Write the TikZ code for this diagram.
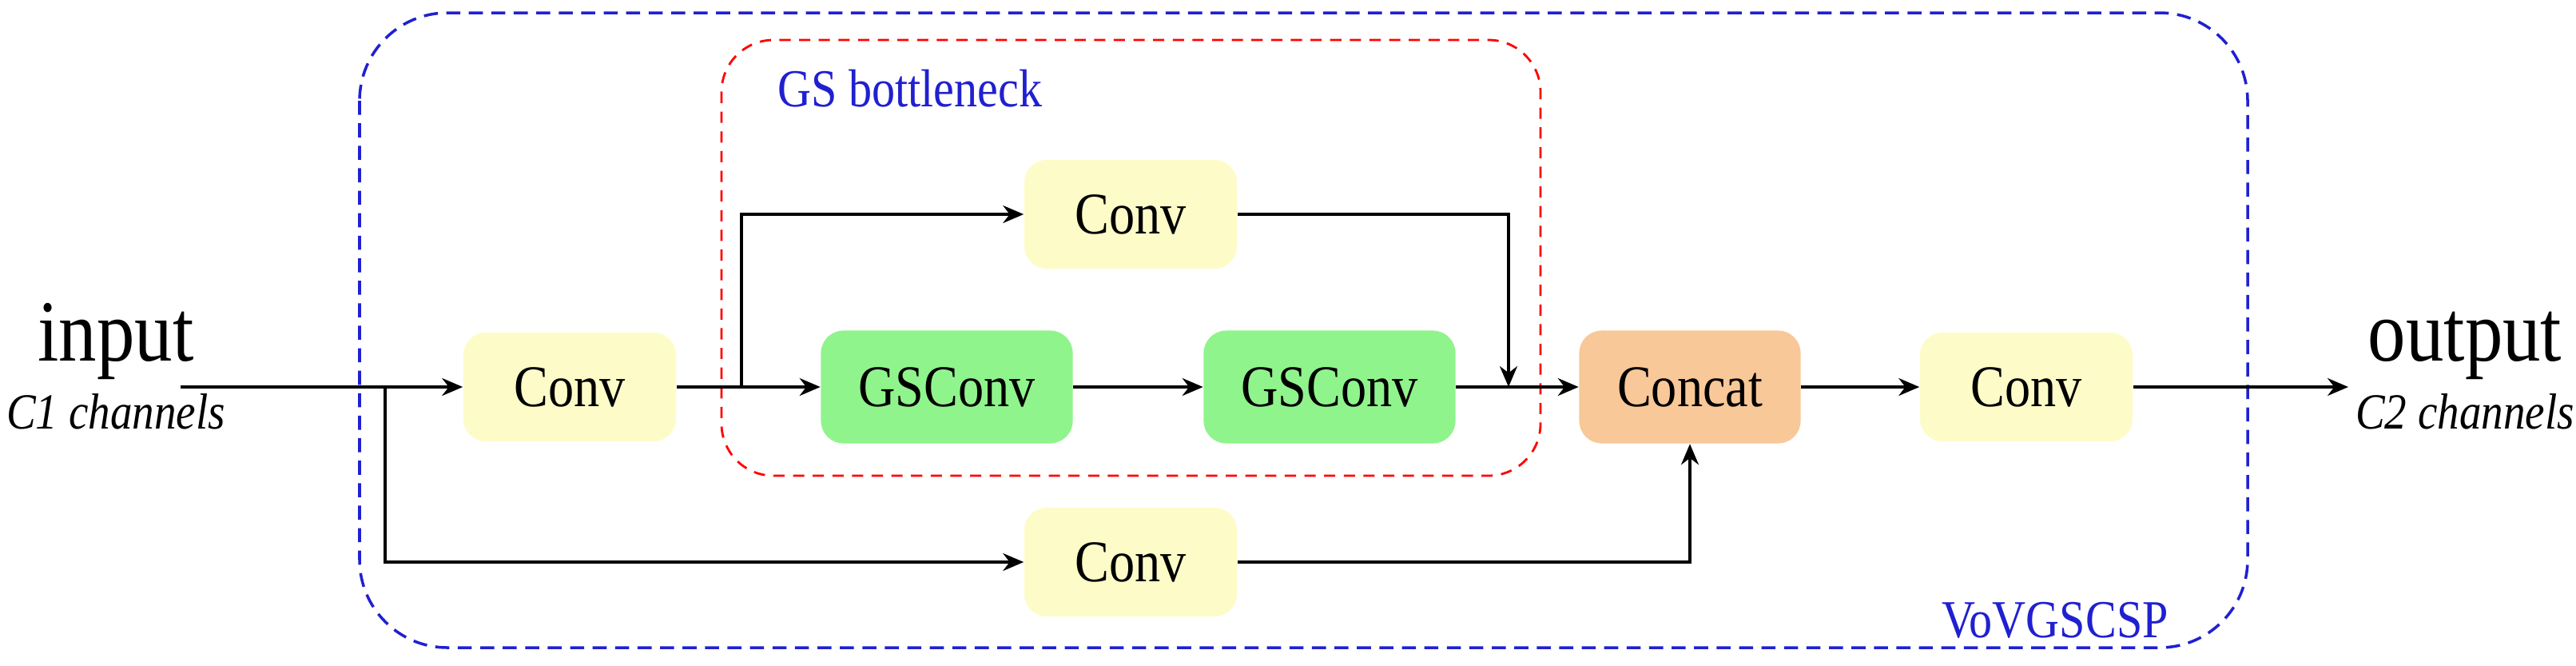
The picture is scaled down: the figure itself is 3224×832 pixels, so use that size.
\documentclass[tikz,border=0pt]{standalone}
\usepackage{fontspec}
\setmainfont{Liberation Serif}[FakeStretch=0.87]
\usetikzlibrary{arrows.meta}
\definecolor{cy}{HTML}{FDFCC8}
\definecolor{cg}{HTML}{90F48C}
\definecolor{co}{HTML}{F8C898}
\definecolor{bb}{HTML}{2020D0}
\begin{document}
\begin{tikzpicture}[x=0.01cm,y=-0.01cm,
  box/.style={rounded corners=8pt,inner sep=0pt,font=\fontsize{21}{25}\selectfont},
  conv/.style={box,fill=cy,minimum width=2.66cm,minimum height=1.36cm},
  gs/.style={box,fill=cg,minimum width=3.15cm,minimum height=1.41cm},
  ar/.style={line width=1pt,-{Stealth[length=0.26cm,width=0.22cm]}},
  ln/.style={line width=1pt}]
\useasboundingbox (0,0) rectangle (3224,832);
\draw[bb,dashed,line width=1pt,dash pattern=on 5pt off 3pt,rounded corners=1.1cm] (450,16) rectangle (2813,810);
\draw[red,dashed,line width=0.8pt,dash pattern=on 4pt off 3pt,rounded corners=0.65cm] (903,50) rectangle (1928,595);
\node[text=bb,font=\fontsize{19}{22}\selectfont,anchor=base west] (gsl) at (961,133) {GS bottleneck};
\node[text=bb,font=\fontsize{19}{22}\selectfont,anchor=base] (vl) at (2572,797) {VoVGSCSP};
\node[font=\fontsize{31}{36}\selectfont,anchor=base] (in) at (145,451) {input};
\node[font=\itshape\fontsize{18}{22}\selectfont,anchor=base] (c1) at (145,536) {C1 channels};
\node[font=\fontsize{31}{36}\selectfont,anchor=base] (out) at (3085,451) {output};
\node[font=\itshape\fontsize{18}{22}\selectfont,anchor=base] (c2) at (3085,536) {C2 channels};
\node[conv] (cv1) at (713,484) {Conv};
\node[conv] (cvt) at (1415,268) {Conv};
\node[gs] (g1) at (1185,484) {GSConv};
\node[gs] (g2) at (1664,484) {GSConv};
\node[conv] (cvb) at (1415,703) {Conv};
\node[box,fill=co,minimum width=2.77cm,minimum height=1.41cm] (cat) at (2115,484) {Concat};
\node[conv] (cvr) at (2536,484) {Conv};
\coordinate (st) at (226,484);
\coordinate (b1) at (482,484);
\coordinate (b2) at (928,484);
\coordinate (j) at (1888,484);
\coordinate (en) at (2939,484);
\draw[ar] (st) -- (cv1.west);
\draw[ar] (b1) |- (cvb.west);
\draw[ar] (cv1.east) -- (g1.west);
\draw[ar] (b2) |- (cvt.west);
\draw[ar] (g1.east) -- (g2.west);
\draw[ar] (cvt.east) -| (j);
\draw[ar] (g2.east) -- (cat.west);
\draw[ar] (cvb.east) -| (cat.south);
\draw[ar] (cat.east) -- (cvr.west);
\draw[ar] (cvr.east) -- (en);
\end{tikzpicture}
\end{document}
